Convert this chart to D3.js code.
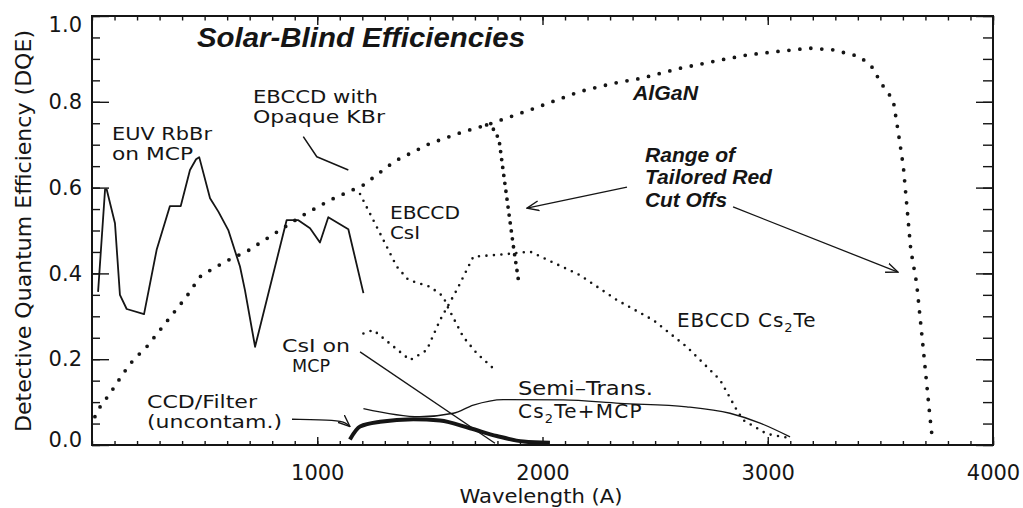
<!DOCTYPE html>
<html><head><meta charset="utf-8">
<script src="https://cdn.jsdelivr.net/npm/d3@7"></script>
<style>body{margin:0;background:#fff} svg{display:block}</style>
</head><body><svg id="c" width="1023" height="508"></svg>
<script>
// ---- data (wavelength in Angstrom, DQE) ----
const euvWl = [27,58,65,102,124,154,231,287,346,394,435,462,476,524,561,605,657,679,724,864,876,916,968,1012,1049,1138,1205];
const euvQe = [.357,.596,.596,.517,.350,.317,.305,.455,.557,.557,.641,.666,.671,.575,.544,.501,.416,.361,.229,.524,.524,.524,.505,.472,.531,.503,.354];

const kbrWl = [938,998,1138];
const kbrQe = [.719,.672,.641];

const alganWl = [13,36,80,139,183,243,302,361,420,479,539,627,687,790,938,1057,1205,1323,1353,1501,1648,1752,1944,2166,2314,2440,2610,2758,2906,3054,3188,3291,3410,3469,3498,3557,3580,3602,3635,3661,3691,3720,3732];
const alganQe = [.066,.089,.120,.167,.198,.229,.268,.307,.346,.392,.412,.437,.451,.486,.536,.571,.606,.653,.664,.703,.730,.746,.781,.824,.843,.855,.878,.894,.909,.918,.925,.921,.905,.878,.847,.804,.727,.649,.455,.377,.221,.066,.008];

const cutWl = [1752,1785,1807,1828,1855,1873,1893];
const cutQe = [.746,.735,.712,.629,.524,.455,.385];

const csiWl = [1190,1279,1353,1404,1501,1560,1575,1648,1708,1797];
const csiQe = [.585,.493,.416,.385,.369,.346,.326,.252,.214,.171];

const cs2teWl = [1205,1249,1412,1486,1545,1619,1693,1841,1944,2166,2330,2492,2640,2788,2862,2891,2995,3099];
const cs2teQe = [.260,.268,.198,.221,.291,.361,.439,.445,.451,.396,.338,.291,.229,.152,.082,.058,.026,.016];

const mcpCsiWl = [1190,1789];
const mcpCsiQe = [.217,.004];

const semiWl = [1205,1456,1604,1693,1826,2092,2344,2640,2832,2966,3099];
const semiQe = [.085,.066,.074,.093,.106,.105,.097,.089,.074,.051,.019];

const ccdWl = [1145,1190,1279,1427,1545,1678,1797,1915,2033];
const ccdQe = [.013,.043,.054,.060,.057,.039,.021,.008,.005];

// arrows (data coordinates)
const arrowCcdWl = [888,1092,1128,1145];
const arrowCcdQe = [.060,.058,.051,.043];
const arrowCut1Wl = [2375,1931];
const arrowCut1Qe = [.601,.552];
const arrowCut2Wl = [2846,3578];
const arrowCut2Qe = [.555,.403];

const xTickLabels = [1000,2000,3000,4000];
const yTickLabels = [0.0,0.2,0.4,0.6,0.8,1.0];

// ---- drawing ----
const svg = d3.select("#c");
const x = d3.scaleLinear().domain([0,4000]).range([92,993]);
const y = d3.scaleLinear().domain([0,1]).range([445,16]);
const pts = (w,q) => w.map((v,i)=>[v,q[i]]);
const line = d3.line().x(d=>x(d[0])).y(d=>y(d[1]));
const ink = "#151515";
const TXT = "'DejaVu Sans', sans-serif";
const BOLD = "'Liberation Sans', Arial, sans-serif";

svg.append("defs").append("marker")
  .attr("id","ah").attr("viewBox","0 -6 12 12").attr("refX",11).attr("refY",0)
  .attr("markerUnits","userSpaceOnUse").attr("markerWidth",13).attr("markerHeight",13)
  .attr("orient","auto")
  .append("path").attr("d","M0,-4.5 L11,0 L0,4.5").attr("fill","none").attr("stroke",ink).attr("stroke-width",1.3);

// axes
function styleAxis(g){
  g.select(".domain").remove();
  g.selectAll("line").attr("stroke",ink).attr("stroke-width",1.4);
  g.attr("font-family",null).attr("font-size",null);
  g.selectAll("text").attr("fill",ink).style("font-family",TXT).style("font-size","21px");
}
const yMinor = d3.range(0,1.0001,0.05);
const xMinor = d3.range(0,4001,100);
svg.append("g").attr("transform","translate(92,0)")
  .call(d3.axisLeft(y).tickValues(yMinor).tickSize(-8).tickSizeOuter(0).tickFormat("")).call(styleAxis);
const yl = svg.append("g").attr("transform","translate(92,0)")
  .call(d3.axisLeft(y).tickValues(yTickLabels).tickSize(-17).tickSizeOuter(0).tickPadding(10).tickFormat(d3.format(".1f"))).call(styleAxis);
yl.selectAll(".tick text").attr("transform",d=> d===1 ? "translate(0,9)" : d===0 ? "translate(0,-5)" : null);
svg.append("g").attr("transform","translate(993,0)")
  .call(d3.axisRight(y).tickValues(yMinor).tickSize(-10).tickSizeOuter(0).tickFormat("")).call(styleAxis);
svg.append("g").attr("transform","translate(993,0)")
  .call(d3.axisRight(y).tickValues(yTickLabels).tickSize(-17).tickSizeOuter(0).tickFormat("")).call(styleAxis);
svg.append("g").attr("transform","translate(0,445)")
  .call(d3.axisBottom(x).tickValues(xMinor).tickSize(-4).tickSizeOuter(0).tickFormat("")).call(styleAxis);
svg.append("g").attr("transform","translate(0,445)")
  .call(d3.axisBottom(x).tickValues(xTickLabels).tickSize(-8).tickSizeOuter(0).tickPadding(20).tickFormat(d3.format("d"))).call(styleAxis);
svg.append("g").attr("transform","translate(0,16)")
  .call(d3.axisTop(x).tickValues(xMinor).tickSize(-4.5).tickSizeOuter(0).tickFormat("")).call(styleAxis);
svg.append("g").attr("transform","translate(0,16)")
  .call(d3.axisTop(x).tickValues(xTickLabels).tickSize(-9).tickSizeOuter(0).tickFormat("")).call(styleAxis);

svg.append("rect").attr("x",x(0)).attr("y",y(1)).attr("width",x(4000)-x(0)).attr("height",y(0)-y(1))
  .attr("fill","none").attr("stroke",ink).attr("stroke-width",2);

// axis titles
svg.append("text").attr("transform","translate(31,231) rotate(-90)").attr("text-anchor","middle")
  .attr("textLength",402).attr("lengthAdjust","spacingAndGlyphs")
  .style("font-family",TXT).style("font-size","21px").attr("fill",ink)
  .text("Detective Quantum Efficiency (DQE)");
svg.append("text").attr("x",541).attr("y",503).attr("text-anchor","middle")
  .attr("textLength",163).attr("lengthAdjust","spacingAndGlyphs")
  .style("font-family",TXT).style("font-size","20px").attr("fill",ink)
  .text("Wavelength (A)");

// series
function drawLine(w,q,opts){
  const p = svg.append("path").datum(pts(w,q))
    .attr("fill","none").attr("stroke",ink)
    .attr("stroke-width",opts.sw).attr("stroke-linejoin","round")
    .attr("d", line.curve(opts.curve || d3.curveLinear));
  if(opts.dash){ p.attr("stroke-dasharray",opts.dash).attr("stroke-linecap","round"); }
  if(opts.marker){ p.attr("marker-end","url(#ah)"); }
  return p;
}
drawLine(euvWl,euvQe,{sw:1.8});
drawLine(kbrWl,kbrQe,{sw:1.5});
drawLine(alganWl,alganQe,{sw:3.8,dash:"0 11"});
drawLine(cutWl,cutQe,{sw:3.8,dash:"0 8"});
drawLine(csiWl,csiQe,{sw:2.6,dash:"0 7.5"});
drawLine(cs2teWl,cs2teQe,{sw:2.6,dash:"0 7.5"});
drawLine(mcpCsiWl,mcpCsiQe,{sw:1.3});
drawLine(semiWl,semiQe,{sw:1.3,curve:d3.curveMonotoneX});
drawLine(ccdWl,ccdQe,{sw:4,curve:d3.curveMonotoneX});
drawLine(arrowCcdWl,arrowCcdQe,{sw:1.3,curve:d3.curveBasis,marker:true});
drawLine(arrowCut1Wl,arrowCut1Qe,{sw:1.3,marker:true});
drawLine(arrowCut2Wl,arrowCut2Qe,{sw:1.3,marker:true});

// annotations
function label(t,px,py,len,opts={}){
  const e = svg.append("text").attr("x",px).attr("y",py).attr("fill",ink)
    .style("font-family",opts.bold?BOLD:TXT).style("font-size",(opts.fs||17)+"px");
  if(opts.bold) e.style("font-weight","bold").style("font-style","italic");
  if(len) e.attr("textLength",len).attr("lengthAdjust","spacingAndGlyphs");
  e.text(t);
  return e;
}
label("Solar-Blind Efficiencies",197,47,328,{bold:true,fs:28});
label("EUV RbBr",112,140,100);
label("on MCP",112,160,81);
label("EBCCD with",253,103,125);
label("Opaque KBr",253,123,132);
label("EBCCD",390,219,70);
label("CsI",390,239,30);
label("CsI on",282,352,68);
label("MCP",292,372,38);
label("CCD/Filter",147,408,110);
label("(uncontam.)",147,428,135);
label("Semi\u2013Trans.",518,395,135,{fs:19});
label("AlGaN",633,100,65,{bold:true,fs:21});
label("Range of",645,162,90,{bold:true,fs:20});
label("Tailored Red",645,184,127,{bold:true,fs:20});
label("Cut Offs",645,207,82,{bold:true,fs:20});
function subLabel(parts,px,py,ls,fs){
  const e = svg.append("text").attr("x",px).attr("y",py).attr("fill",ink)
    .style("font-family",TXT).style("font-size",fs+"px").style("letter-spacing",ls+"px");
  parts.forEach(([s,sub])=>{
    const t = e.append("tspan").text(s);
    if(sub) t.style("font-size","13px").attr("dy",5);
    else if(e.selectAll("tspan").size()>1) t.attr("dy",-5);
  });
}
subLabel([["EBCCD Cs"],["2",true],["Te"]],677,327,0.9,20);
subLabel([["Cs"],["2",true],["Te+MCP"]],518,418,1.2,20);
</script></body></html>
